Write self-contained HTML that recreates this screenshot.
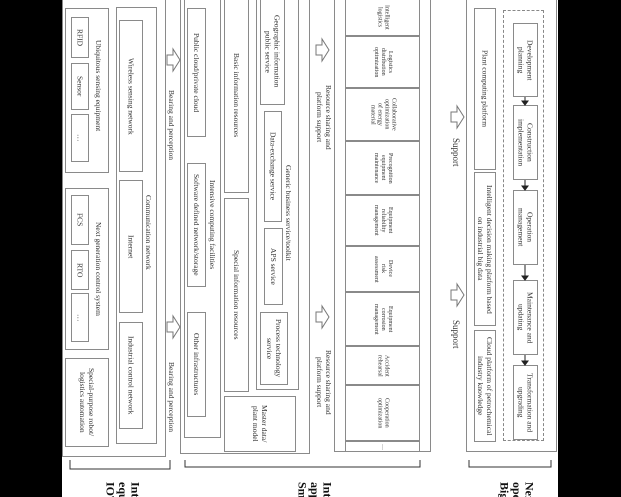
<!DOCTYPE html>
<html style="overflow:hidden;height:497px"><head><meta charset="utf-8"><style>
html,body{margin:0;width:621px;height:497px;overflow:hidden}
body{background:#000;position:relative;font-family:"Liberation Serif",serif;color:#333}
#w{position:absolute;left:62px;top:0;width:496px;height:497px;background:#fff}
.b{position:absolute;border:1px solid #8a8a8a;box-sizing:border-box;display:flex;align-items:center;justify-content:center;writing-mode:vertical-rl;text-align:center;font-size:7.5px;line-height:1.2;background:transparent}
.s{font-size:6px;line-height:1.15}
.t{position:absolute;writing-mode:vertical-rl;white-space:nowrap;font-size:7.5px;line-height:1.2;text-align:center}
.L{position:absolute;writing-mode:vertical-rl;white-space:nowrap;font-weight:bold;font-size:12px;line-height:12.5px;color:#111;max-height:15px;overflow:hidden}
svg{position:absolute;left:0;top:0}
</style></head><body>
<div id="w"></div>
<!-- column 1 -->
<div class="b" style="left:62px;top:-2px;width:104px;height:459px"></div>
<div class="b" style="left:65px;top:8px;width:44px;height:165px"></div>
<div class="t" style="left:94px;top:40px">Ubiquitous sensing equipment</div>
<div class="b" style="left:71px;top:17px;width:18px;height:41px">RFID</div>
<div class="b" style="left:71px;top:63px;width:18px;height:47px">Sensor</div>
<div class="b" style="left:71px;top:114px;width:18px;height:48px">…</div>
<div class="b" style="left:65px;top:188px;width:44px;height:162px"></div>
<div class="t" style="left:94px;top:222px">Next generation control system</div>
<div class="b" style="left:71px;top:195px;width:18px;height:50px">FCS</div>
<div class="b" style="left:71px;top:250px;width:18px;height:40px">RTO</div>
<div class="b" style="left:71px;top:293px;width:18px;height:49px">…</div>
<div class="b" style="left:65px;top:358px;width:44px;height:89px">Special-purpose robot/<br>logistics automation</div>
<div class="b" style="left:116px;top:7px;width:41px;height:437px"></div>
<div class="t" style="left:144px;top:195px">Communication network</div>
<div class="b" style="left:119px;top:20px;width:24px;height:152px">Wireless sensing network</div>
<div class="b" style="left:119px;top:180px;width:24px;height:133px">Internet</div>
<div class="b" style="left:119px;top:322px;width:24px;height:107px">Industrial control network</div>
<div class="t" style="left:167px;top:90px">Bearing and perception</div>
<div class="t" style="left:167px;top:362px">Bearing and perception</div>
<!-- column 2 -->
<div class="b" style="left:180px;top:-2px;width:130px;height:456px"></div>
<div class="b" style="left:184px;top:-2px;width:37px;height:440px"></div>
<div class="t" style="left:208px;top:180px">Intensive computing facilities</div>
<div class="b" style="left:187px;top:8px;width:19px;height:129px">Public cloud/private cloud</div>
<div class="b" style="left:187px;top:163px;width:19px;height:124px">Software defined network/storage</div>
<div class="b" style="left:187px;top:312px;width:19px;height:105px">Other infrastructures</div>
<div class="b" style="left:224px;top:-2px;width:25px;height:195px">Basic information resources</div>
<div class="b" style="left:224px;top:198px;width:25px;height:194px">Special information resources</div>
<div class="b" style="left:256px;top:-2px;width:43px;height:392px"></div>
<div class="t" style="left:284px;top:165px">Generic business service/toolkit</div>
<div class="b" style="left:260px;top:-2px;width:25px;height:107px">Geographic information<br>public service</div>
<div class="b" style="left:264px;top:111px;width:18px;height:111px">Data-exchange service</div>
<div class="b" style="left:264px;top:228px;width:19px;height:77px">APS service</div>
<div class="b" style="left:260px;top:312px;width:28px;height:73px">Process technology<br>service</div>
<div class="b" style="left:224px;top:396px;width:72px;height:56px">Master data/<br>plant model</div>
<div class="t" style="left:315px;top:85px">Resource sharing and<br>platform support</div>
<div class="t" style="left:315px;top:350px">Resource sharing and<br>platform support</div>
<!-- column 3 -->
<div class="b" style="left:334px;top:-2px;width:97px;height:454px"></div>
<div class="b s" style="left:345px;top:-2px;width:75px;height:38px">Intelligent<br>logistics</div>
<div class="b s" style="left:345px;top:36px;width:75px;height:52px">Logistics<br>distribution<br>optimization</div>
<div class="b s" style="left:345px;top:88px;width:75px;height:53px">Collaborative<br>optimization<br>of energy<br>material</div>
<div class="b s" style="left:345px;top:141px;width:75px;height:54px">Precognition<br>equipment<br>maintenance</div>
<div class="b s" style="left:345px;top:195px;width:75px;height:51px">Equipment<br>reliability<br>management</div>
<div class="b s" style="left:345px;top:246px;width:75px;height:46px">Device<br>risk<br>assessment</div>
<div class="b s" style="left:345px;top:292px;width:75px;height:54px">Equipment<br>corrosion<br>management</div>
<div class="b s" style="left:345px;top:346px;width:75px;height:39px">Accident<br>rehearsal</div>
<div class="b s" style="left:345px;top:385px;width:75px;height:56px">Cooperation<br>optimization</div>
<div class="b s" style="left:345px;top:441px;width:75px;height:11px">…</div>
<div class="t" style="left:450px;top:138px;font-size:9px">Support</div>
<div class="t" style="left:450px;top:320px;font-size:9px">Support</div>
<!-- column 4 -->
<div class="b" style="left:466px;top:-2px;width:91px;height:454px"></div>
<div class="b" style="left:474px;top:8px;width:22px;height:162px">Plant computing platform</div>
<div class="b" style="left:474px;top:172px;width:22px;height:154px">Intelligent decision making platform based<br>on industrial big data</div>
<div class="b" style="left:474px;top:330px;width:22px;height:112px">Cloud platform of petrochemical<br>industry knowledge</div>
<div class="b" style="left:503px;top:10px;width:41px;height:431px;border:1px dashed #888"></div>
<div class="b" style="left:513px;top:23px;width:25px;height:74px">Development<br>planning</div>
<div class="b" style="left:513px;top:105px;width:25px;height:75px">Construction<br>implementation</div>
<div class="b" style="left:513px;top:190px;width:25px;height:75px">Operation<br>management</div>
<div class="b" style="left:513px;top:280px;width:25px;height:75px">Maintenance and<br>updating</div>
<div class="b" style="left:513px;top:365px;width:25px;height:75px">Transformation and<br>upgrading</div>
<svg width="621" height="497">
<g fill="#fff" stroke="#777" stroke-width="1">
<polygon points="167,55 173,55 173,49 180,60 173,71 173,65 167,65"/>
<polygon points="167,322 173,322 173,316 180,327 173,338 173,332 167,332"/>
<polygon points="316,45 322,45 322,39 329,50 322,61 322,55 316,55"/>
<polygon points="316,312 322,312 322,306 329,317 322,328 322,322 316,322"/>
<polygon points="451,112 457,112 457,106 464,117 457,128 457,122 451,122"/>
<polygon points="451,290 457,290 457,284 464,295 457,306 457,300 451,300"/>
</g>
<g stroke="#222" fill="#222">
<line x1="525" y1="97" x2="525" y2="101"/><polygon points="522,101 528,101 525,105"/>
<line x1="525" y1="180" x2="525" y2="186"/><polygon points="522,186 528,186 525,190"/>
<line x1="525" y1="265" x2="525" y2="276"/><polygon points="522,276 528,276 525,280"/>
<line x1="525" y1="355" x2="525" y2="361"/><polygon points="522,361 528,361 525,365"/>
</g>
<g fill="none" stroke="#333" stroke-width="1">
<path d="M70,460 L70,469 L170,469 L170,460"/>
<path d="M185,460 L185,467 L420,467 L420,460"/>
<path d="M469,460 L469,467 L551,467 L551,460"/>
</g>
</svg>
<div class="L" style="left:104px;top:482px">Intelligent<br>equipment<br>IOT layer</div>
<div class="L" style="left:296px;top:482px">Intelligent<br>application<br>Smart layer</div>
<div class="L" style="left:498px;top:482px">Next<br>operation<br>Big data</div>
</body></html>
